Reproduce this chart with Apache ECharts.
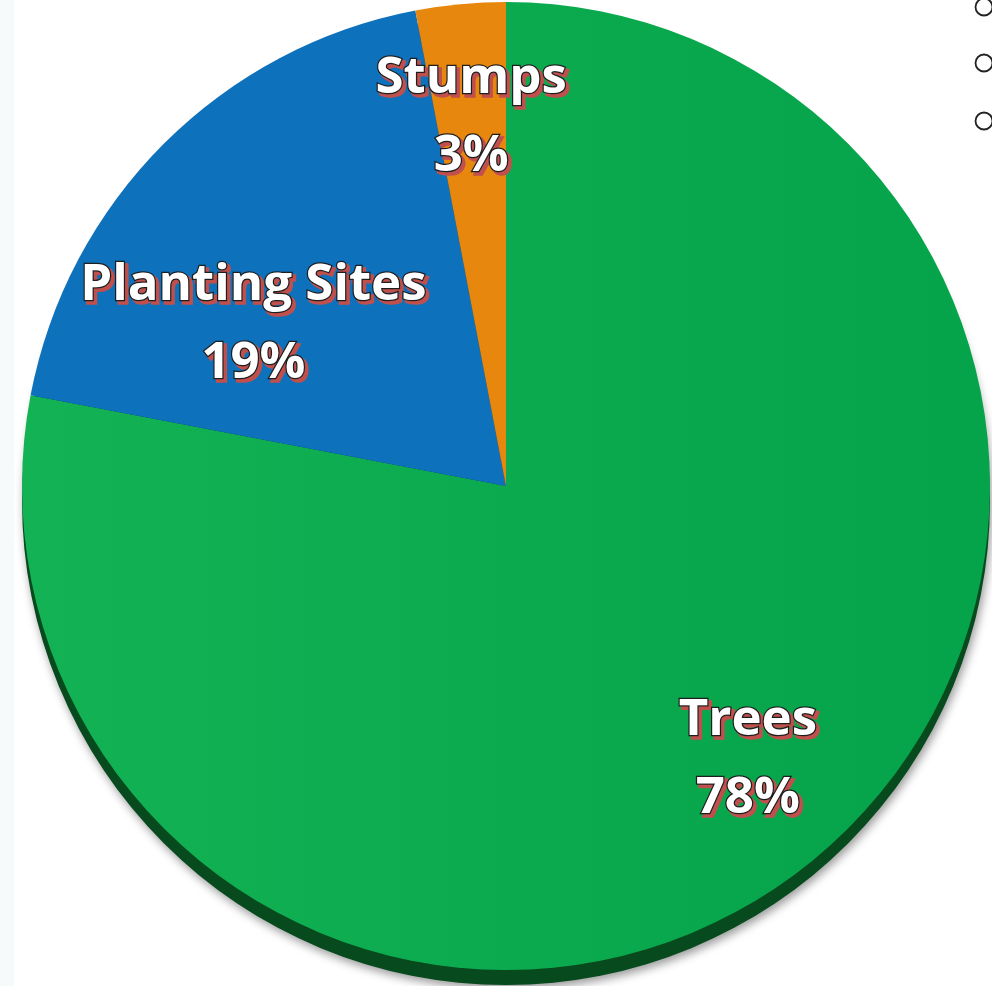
<!DOCTYPE html>
<html>
<head>
<meta charset="utf-8">
<script src="https://cdn.jsdelivr.net/npm/echarts@6/dist/echarts.min.js"></script>
<style>
html,body{margin:0;padding:0;background:#ffffff;}
#chart{width:992px;height:986px;}
</style>
</head>
<body>
<div id="chart"></div>
<script>
var categories = ['Trees', 'Planting Sites', 'Stumps'];
var values = [78, 19, 3];
var faceColors = ['#0aab4f', '#0e71bc', '#e8870e'];
var sideColors = ['#064a1e', '#073a66', '#7a4506'];
var labelOffsets = [[6, -12], [9, 100], [0, 0]];

var chart = echarts.init(document.getElementById('chart'));

var CX = 506, CY = 486, R = 484;

function buildData(colors, withGradient) {
  return categories.map(function (name, i) {
    var color = colors[i];
    if (withGradient && i === 0) {
      color = { type: 'linear', x: 0, y: 0, x2: 1, y2: 0,
        colorStops: [{ offset: 0, color: '#13b254' }, { offset: 1, color: '#05a34a' }] };
    }
    return { name: name, value: values[i], itemStyle: { color: color } };
  });
}

function labelData(dx, dy) {
  return categories.map(function (name, i) {
    return { name: name, value: values[i],
      label: { offset: [labelOffsets[i][0] + dx, labelOffsets[i][1] + dy] } };
  });
}

var baseLabel = {
  show: true,
  position: 'inside',
  formatter: '{b}\n{d}%',
  fontFamily: 'Open Sans',
  fontWeight: 'bold',
  fontSize: 51,
  lineHeight: 78
};

function labelSeries(extra, dx, dy, zl) {
  var lab = Object.assign({}, baseLabel, extra);
  return {
    type: 'pie',
    silent: true,
    zlevel: zl,
    center: [CX, CY],
    radius: [250, R],
    startAngle: 90,
    clockwise: true,
    avoidLabelOverlap: false,
    labelLayout: { hideOverlap: false },
    itemStyle: { color: 'rgba(0,0,0,0)' },
    labelLine: { show: false },
    label: lab,
    data: labelData(dx, dy)
  };
}

chart.setOption({
  backgroundColor: '#ffffff',
  animation: false,
  graphic: [
    { type: 'rect', shape: { x: 0, y: 0, width: 14, height: 986 }, style: { fill: '#f7fafa' }, z: -10 },
    { type: 'circle', shape: { cx: 984, cy: 7, r: 8.5 }, style: { fill: 'none', stroke: '#222', lineWidth: 1.8 } },
    { type: 'circle', shape: { cx: 984, cy: 63, r: 8.5 }, style: { fill: 'none', stroke: '#222', lineWidth: 1.8 } },
    { type: 'circle', shape: { cx: 984, cy: 121, r: 8.5 }, style: { fill: 'none', stroke: '#222', lineWidth: 1.8 } }
  ],
  series: [
    {
      type: 'pie',
      silent: true,
      center: [CX, CY + 15],
      radius: [0, R],
      startAngle: 90,
      clockwise: true,
      label: { show: false },
      labelLine: { show: false },
      itemStyle: { shadowColor: 'rgba(0,0,0,0.4)', shadowBlur: 10, shadowOffsetY: 4, shadowOffsetX: 2 },
      data: buildData(sideColors, false),
      z: 1
    },
    {
      type: 'pie',
      silent: true,
      center: [CX, CY],
      radius: [0, R],
      startAngle: 90,
      clockwise: true,
      label: { show: false },
      labelLine: { show: false },
      data: buildData(faceColors, true),
      z: 2
    },
    labelSeries({ color: '#c0504d', textBorderColor: '#c0504d', textBorderWidth: 3.5 }, 3, 3, 1),
    labelSeries({ color: '#ffffff', textBorderColor: '#1e1e1e', textBorderWidth: 2.5 }, 0, 0, 2)
  ]
});
</script>
</body>
</html>
